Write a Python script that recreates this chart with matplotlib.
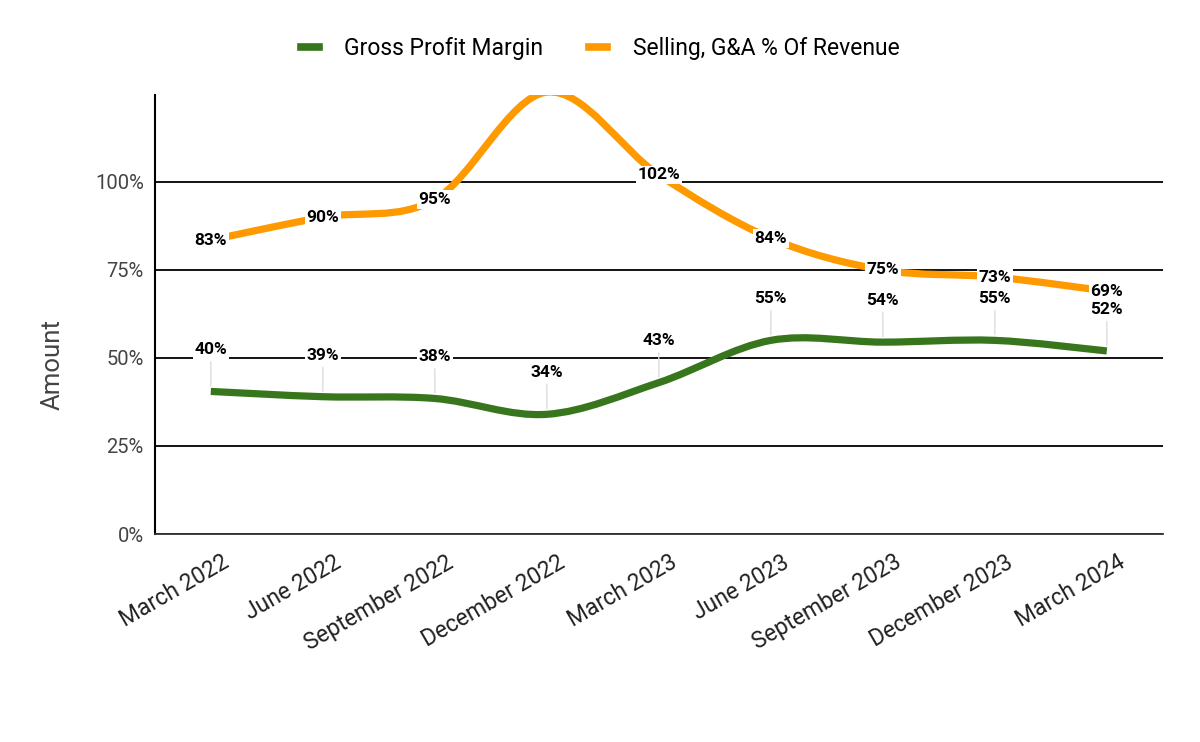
# Gross profit margin vs SG&A as % of revenue, quarterly

import numpy as np
import matplotlib.pyplot as plt
import matplotlib.transforms as mtransforms
from matplotlib.path import Path
from matplotlib.patches import PathPatch

quarters = ['March 2022', 'June 2022', 'September 2022', 'December 2022', 'March 2023',
            'June 2023', 'September 2023', 'December 2023', 'March 2024']
gross_margin = [40.5, 39, 38.5, 34, 43, 55, 54.5, 55, 52]
sga_pct = [83.5, 90, 95, 125.5, 102, 84, 75, 73, 69]
gm_labels = ['40%', '39%', '38%', '34%', '43%', '55%', '54%', '55%', '52%']
sga_labels = ['83%', '90%', '95%', '', '102%', '84%', '75%', '73%', '69%']

green = '#38761d'
orange = '#ff9900'

plt.rcParams['font.family'] = ['Roboto', 'DejaVu Sans']


def smooth_path(x, y, k=1/6.):
    # cubic bezier through the points (catmull-rom style control points)
    x = np.asarray(x, float)
    y = np.asarray(y, float)
    n = len(x)
    verts = [(x[0], y[0])]
    codes = [Path.MOVETO]
    for i in range(n - 1):
        i0 = max(i - 1, 0)
        i3 = min(i + 2, n - 1)
        c1 = (x[i] + (x[i+1] - x[i0]) * k, y[i] + (y[i+1] - y[i0]) * k)
        c2 = (x[i+1] - (x[i3] - x[i]) * k, y[i+1] - (y[i3] - y[i]) * k)
        verts += [c1, c2, (x[i+1], y[i+1])]
        codes += [Path.CURVE4] * 3
    return Path(verts, codes)


fig = plt.figure(figsize=(12, 7.42), dpi=100)
ax = fig.add_axes([0.129, 0.2803, 0.84, 0.5917])

xs = np.arange(len(quarters))
ax.add_patch(PathPatch(smooth_path(xs, gross_margin), fill=False, edgecolor=green,
                       lw=5.2, capstyle='butt', zorder=3))
ax.add_patch(PathPatch(smooth_path(xs, sga_pct), fill=False, edgecolor=orange,
                       lw=5.2, capstyle='butt', zorder=3))

# legend handles
ax.plot([], [], color=green, lw=5.5, label='Gross Profit Margin')
ax.plot([], [], color=orange, lw=5.5, label='Selling, G&A % Of Revenue')

ax.set_xlim(-0.5, len(quarters) - 0.5)
ax.set_ylim(0, 124.7)
ax.set_yticks([0, 25, 50, 75, 100])
ax.set_yticklabels(['0%', '25%', '50%', '75%', '100%'])
ax.grid(axis='y', color='black', lw=1.3, zorder=1)
ax.set_axisbelow(True)
for s in ['top', 'right']:
    ax.spines[s].set_visible(False)
ax.spines['left'].set_linewidth(1.5)
ax.spines['bottom'].set_color('#333333')
ax.spines['bottom'].set_linewidth(1.3)
ax.tick_params(axis='y', length=0, pad=8, labelsize=14.5, labelcolor='#444444')
ax.tick_params(axis='x', length=0, pad=12, labelsize=16.5, labelcolor='#222222')
ax.set_xticks(xs)
ax.set_xticklabels(quarters, rotation=30, ha='right', va='top', rotation_mode='anchor')
shift = mtransforms.ScaledTranslation(0.11, 0, fig.dpi_scale_trans)
for lab in ax.get_xticklabels():
    lab.set_transform(lab.get_transform() + shift)
ax.set_ylabel('Amount', fontsize=18.5, color='#444444', labelpad=22, y=0.387)

for i in xs:
    ax.annotate(gm_labels[i], xy=(i, gross_margin[i]), xytext=(0, 30),
                textcoords='offset points', ha='center', va='center',
                fontsize=12.5, fontweight='bold', color='black', zorder=5,
                bbox=dict(boxstyle='square,pad=0.1', fc='white', ec='none'),
                arrowprops=dict(arrowstyle='-', color='#dddddd', lw=1,
                                shrinkA=2, shrinkB=4))
    if sga_labels[i]:
        ax.text(i, sga_pct[i], sga_labels[i], ha='center', va='center',
                fontsize=12.5, fontweight='bold', color='black', zorder=5,
                bbox=dict(boxstyle='square,pad=0.1', fc='white', ec='none'))

fig.legend(loc='upper center', bbox_to_anchor=(0.5, 0.978), ncol=2, frameon=False,
           fontsize=16.5, handlelength=0.8, columnspacing=2.0, handletextpad=1.1)

fig.savefig('out.png', dpi=100)
